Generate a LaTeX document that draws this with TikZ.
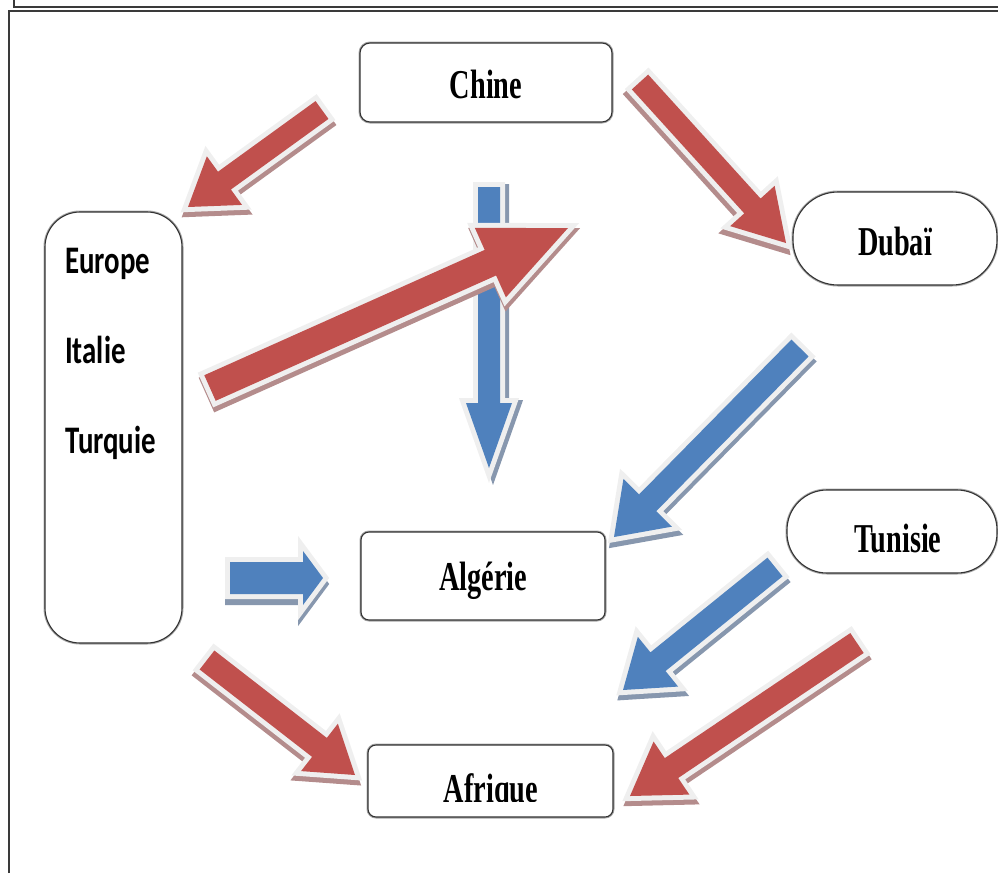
\documentclass[tikz,border=0pt]{standalone}
\usepackage{fontspec}
\setmainfont{Liberation Serif}
\newfontfamily\sidefont{Carlito}
\usetikzlibrary{calc}

\definecolor{arrowred}{HTML}{C0504D}
\definecolor{arrowblue}{HTML}{4F81BD}
\definecolor{redshade}{HTML}{B48C8C}
\definecolor{blueshade}{HTML}{8797AE}
\definecolor{rimgray}{HTML}{EFEFEF}
\definecolor{framegray}{HTML}{3A3A3A}

\tikzset{
  box/.style={draw=black!80, line width=1.1pt, fill=white, rounded corners=#1,
              preaction={draw=gray!70, line width=3pt}},
  boxlabel/.style={font=\fontsize{41}{41}\selectfont\bfseries, anchor=base, inner sep=0pt},
  sidelabel/.style={font=\fontsize{39}{39}\selectfont\sidefont\bfseries, anchor=base west, inner sep=0pt},
  framerule/.style={draw=framegray, line width=2pt},
  arrowrim/.style={fill=#1, preaction={draw=rimgray, line width=10pt, line join=miter}},
  arrowshade/.style={draw=#1, fill=#1, line width=10pt, line join=miter},
}

% block arrow: #1 fill, #2 shadow colour, #3 tail, #4 tip,
% #5 shaft half width, #6 head half width, #7 head length, #8 shadow shift
\newcommand\blockarrow[8]{%
  \coordinate (ba-h) at ($(#4)!#7!(#3)$);
  \coordinate (ba-1) at ($(#3)!#5!90:(#4)$);
  \coordinate (ba-2) at ($(ba-h)!#5!90:(#4)$);
  \coordinate (ba-3) at ($(ba-h)!#6!90:(#4)$);
  \coordinate (ba-4) at ($(ba-h)!#6!-90:(#4)$);
  \coordinate (ba-5) at ($(ba-h)!#5!-90:(#4)$);
  \coordinate (ba-6) at ($(#3)!#5!-90:(#4)$);
  \begin{scope}[transform canvas={shift={#8}}]
    \path[arrowshade=#2] (ba-1) -- (ba-2) -- (ba-3) -- (#4) -- (ba-4) -- (ba-5) -- (ba-6) -- cycle;
  \end{scope}
  \path[arrowrim=#1] (ba-1) -- (ba-2) -- (ba-3) -- (#4) -- (ba-4) -- (ba-5) -- (ba-6) -- cycle;
}

\begin{document}
\begin{tikzpicture}[x=1pt, y=-1pt]
\useasboundingbox (0,0) rectangle (998,873);

% double page frame
\draw[framerule] (14,0) -- (14,7) -- (998,7);
\draw[framerule] (9,873) -- (9,11) -- (998,11);

% boxes
\draw[box=10pt] (360,43) rectangle (612,122);
\node[boxlabel] (chine) at (486,98) {\scalebox{0.69}[1]{Chine}};

\draw[box=45pt] (793,192) rectangle (997,285);
\node[boxlabel] (dubai) at (895,255) {\scalebox{0.69}[1]{Dubaï}};

\draw[box=40pt] (787,490) rectangle (997,573);
\node[boxlabel] (tunisie) at (898,552) {\scalebox{0.69}[1]{Tunisie}};

\draw[box=8pt] (361,532) rectangle (605,620);
\node[boxlabel] (algerie) at (483,590) {\scalebox{0.69}[1]{Algérie}};

\draw[box=8pt] (368,745) rectangle (613,817);
\begin{scope}
  \clip (368,745) rectangle (613,801);
  \node[boxlabel] (afrique) at (491,802) {\scalebox{0.69}[1]{Afrique}};
\end{scope}

\draw[box=35pt] (45,212) rectangle (182,643);
\node[sidelabel] (europe) at (65,273) {\scalebox{0.74}[1]{Europe}};
\node[sidelabel] (italie) at (65,363) {\scalebox{0.74}[1]{Italie}};
\node[sidelabel] (turquie) at (65,453) {\scalebox{0.74}[1]{Turquie}};

% arrow end points
\coordinate (a1s) at (322,110); \coordinate (a1e) at (188,207);
\coordinate (a2s) at (640,82);  \coordinate (a2e) at (786,243);
\coordinate (a3s) at (489,187); \coordinate (a3e) at (489,468);
\coordinate (a4s) at (210,388); \coordinate (a4e) at (568,228);
\coordinate (a5s) at (800,348); \coordinate (a5e) at (614,537);
\coordinate (a6s) at (230,578); \coordinate (a6e) at (323,578);
\coordinate (a7s) at (775,567); \coordinate (a7e) at (623,690);
\coordinate (a8s) at (857,643); \coordinate (a8e) at (630,796);
\coordinate (a9s) at (207,660); \coordinate (a9e) at (355,775);

% arrows
\blockarrow{arrowred}{redshade}{a1s}{a1e}{11pt}{30pt}{45pt}{(1,5)}
\blockarrow{arrowred}{redshade}{a2s}{a2e}{11pt}{30pt}{50pt}{(-2,5)}
\blockarrow{arrowblue}{blueshade}{a3s}{a3e}{11pt}{23pt}{65pt}{(4,2)}
\blockarrow{arrowred}{redshade}{a4s}{a4e}{14pt}{38pt}{85pt}{(1,5)}
\blockarrow{arrowblue}{blueshade}{a5s}{a5e}{12pt}{34pt}{48pt}{(1,5)}
\blockarrow{arrowblue}{blueshade}{a6s}{a6e}{16pt}{27pt}{20pt}{(0,6)}
\blockarrow{arrowblue}{blueshade}{a7s}{a7e}{12pt}{32pt}{45pt}{(1,5)}
\blockarrow{arrowred}{redshade}{a8s}{a8e}{12pt}{32pt}{50pt}{(1,5)}
\blockarrow{arrowred}{redshade}{a9s}{a9e}{12pt}{30pt}{45pt}{(-1,5)}

\end{tikzpicture}
\end{document}
